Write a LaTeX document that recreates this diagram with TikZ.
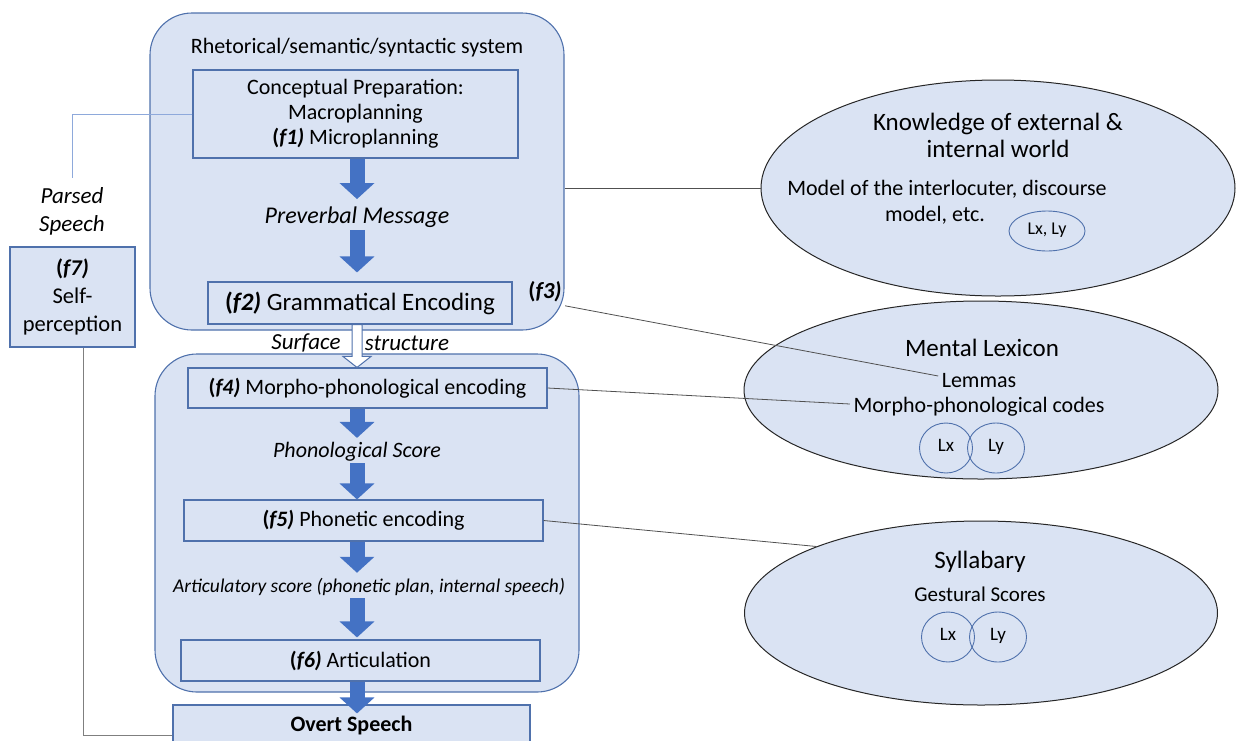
\documentclass[tikz,border=0pt]{standalone}
\usepackage{fontspec}
\setmainfont{Carlito}
\usetikzlibrary{arrows.meta,shapes.geometric,calc}
\definecolor{paleblue}{HTML}{DAE3F3}
\definecolor{boxedge}{HTML}{4F71AC}
\definecolor{arrowblue}{HTML}{4472C4}
\definecolor{linkgray}{HTML}{505050}
\definecolor{feedgray}{HTML}{7F7F7F}
\definecolor{feedblue}{HTML}{8EA9DB}
\newcommand{\fnum}[1]{\textbf{(\textit{#1)}}}
\begin{document}
\begin{tikzpicture}[x=1pt,y=-1pt,
  sysbox/.style={draw=boxedge,fill=paleblue,line width=1.1pt,rounded corners=42pt,inner sep=0pt},
  stagebox/.style={draw=boxedge,fill=paleblue,line width=1.1pt,inner sep=0pt,align=center},
  store/.style={ellipse,draw=black!85,fill=paleblue,line width=1pt,inner sep=0pt},
  lang/.style={ellipse,draw=boxedge,line width=0.9pt,inner sep=0pt,text height=0.75em,text depth=0.12em},
  body/.style={font=\fontsize{22}{24}\selectfont,align=center},
  big/.style={font=\fontsize{25}{27}\selectfont,align=center},
  blk/.style={line width=15pt,draw=arrowblue,-{Triangle[width=34pt,length=16pt]}},
  hollowarr/.style={draw=boxedge,fill=white,line width=1pt,line join=miter},
  link/.style={draw=linkgray,line width=0.8pt}]

\useasboundingbox (0,0) rectangle (1248,740);

% speech production systems
\node[sysbox,minimum width=414pt,minimum height=317pt] (sys) at (357,171.5) {};
\node[sysbox,minimum width=424pt,minimum height=338pt] (form) at (367,523) {};

\node[body] (systitle) at (357,48) {Rhetorical/semantic/syntactic system};
\node[stagebox,font=\fontsize{22}{25}\selectfont,minimum width=325pt,minimum height=88pt] (cp) at (355.5,114)
  {Conceptual Preparation:\\Macroplanning\\\fnum{f1} Microplanning};
\node[body,font=\fontsize{24}{26}\selectfont\itshape] (pm) at (357,217) {Preverbal Message};
\node[stagebox,minimum width=304pt,minimum height=42pt,font=\fontsize{25}{27}\selectfont] (ge) at (360,303) {\fnum{f2} Grammatical Encoding};
\node[font=\fontsize{23}{25}\selectfont] (f3) at (545,292) {\fnum{f3}};

\node[font=\fontsize{23}{25}\selectfont\itshape] (surf) at (306,343) {Surface};
\node[font=\fontsize{23}{25}\selectfont\itshape] (struct) at (407,343) {structure};

\node[stagebox,body,minimum width=359pt,minimum height=40pt] (f4) at (367.5,388) {\fnum{f4} Morpho-phonological encoding};
\node[body,font=\fontsize{22}{24}\selectfont\itshape] (ps) at (357,452) {Phonological Score};
\node[stagebox,body,minimum width=359pt,minimum height=41pt] (f5) at (363.5,520.5) {\fnum{f5} Phonetic encoding};
\node[body,font=\fontsize{19.5}{22}\selectfont\itshape] (as) at (369,587) {Articulatory score (phonetic plan, internal speech)};
\node[stagebox,body,minimum width=359pt,minimum height=41pt] (f6) at (360.5,660.5) {\fnum{f6} Articulation};
\node[stagebox,minimum width=357pt,minimum height=44pt] (overt) at (351.5,727) {};
\node[font=\fontsize{22}{24}\selectfont\bfseries] (overttext) at (351.5,725) {Overt Speech};

% self-monitoring loop
\node[body,font=\fontsize{23}{28}\selectfont\itshape] (parsed) at (72,211) {Parsed\\Speech};
\node[stagebox,font=\fontsize{22.5}{28}\selectfont,minimum width=125pt,minimum height=100pt] (f7) at (72.5,297) {\fnum{f7}\\Self-\\perception};

% knowledge stores
\node[store,minimum width=474pt,minimum height=216pt] (kw) at (998,188) {};
\node[big] (kwtitle) at (998,135.5) {Knowledge of external \&\\internal world};
\node[body] (kwmodel) at (947,189) {Model of the interlocuter, discourse};
\node[body] (kwmodel2) at (935,215) {model, etc.};
\node[lang,minimum width=76pt,minimum height=40pt,font=\fontsize{18}{20}\selectfont] (kwlang) at (1047,231) {Lx, Ly};

\node[store,minimum width=474pt,minimum height=178pt] (lex) at (981,390) {};
\node[big] (lextitle) at (982,348) {Mental Lexicon};
\node[body] (lem) at (979,381) {Lemmas};
\node[body] (mpc) at (979,407) {Morpho-phonological codes};
\node[lang,minimum width=53pt,minimum height=50pt,font=\fontsize{19}{21}\selectfont] (lexlx) at (946,448) {Lx};
\node[lang,minimum width=57pt,minimum height=50pt,font=\fontsize{19}{21}\selectfont] (lexly) at (996,448) {Ly};

\node[store,minimum width=473pt,minimum height=184pt] (syl) at (981,613) {};
\node[big] (syltitle) at (980,562) {Syllabary};
\node[body,font=\fontsize{21}{23}\selectfont] (gest) at (980,594) {Gestural Scores};
\node[lang,minimum width=53pt,minimum height=50pt,font=\fontsize{19}{21}\selectfont] (sylx) at (948,637) {Lx};
\node[lang,minimum width=57pt,minimum height=50pt,font=\fontsize{19}{21}\selectfont] (syly) at (998,637) {Ly};

% processing flow
\draw[blk] (pm.north |- cp.south) -- ([yshift=4pt]pm.north);
\draw[blk] ([yshift=1pt]pm.south) -- ([yshift=9pt]pm.south |- ge.north);
\draw[hollowarr] let \p1=(pm.south |- ge.south), \p2=(f4.north) in
  (\x1-5pt,\y1) -- (\x1+5pt,\y1) -- (\x1+5pt,\y2+11pt) -- (\x1+14pt,\y2+11pt)
  -- (\x1,\y2) -- (\x1-14pt,\y2+11pt) -- (\x1-5pt,\y2+11pt) -- cycle;
\draw[blk] (ps.north |- f4.south) -- ([yshift=1pt]ps.north);
\draw[blk] ([yshift=2pt]ps.south) -- (ps.south |- f5.north);
\draw[blk] (f5.south -| ps.south) -- ([yshift=2pt]as.north -| ps.south);
\draw[blk] ([yshift=1pt]as.south -| ps.south) -- ([yshift=2pt]f6.north -| ps.south);
\draw[blk] (f6.south -| ps.south) -- ([yshift=-9pt]overt.north -| ps.south);

% feedback path
\draw[draw=feedblue,line width=0.8pt] (cp.west) -| ([yshift=6pt]parsed.north);
\draw[draw=feedgray,line width=0.8pt] ([xshift=10.5pt]f7.south) |- ([yshift=-8pt]overt.west);

% links to the stores
\draw[link] (sys.east |- kw.west) -- (kw.west);
\draw[link] (f3.south east) -- ([yshift=5pt]lem.west);
\draw[link] (f4.east) -- ([yshift=3pt]mpc.west);
\draw[link] (f5.east) -- (syl.158);
\end{tikzpicture}
\end{document}
